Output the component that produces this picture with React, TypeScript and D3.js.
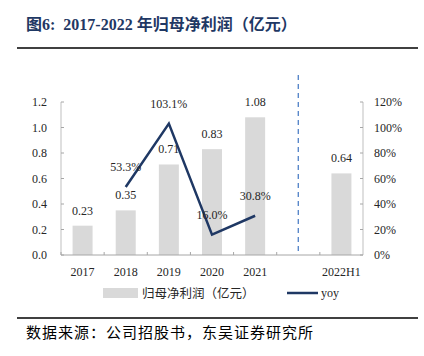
import React from "react";
import * as d3 from "d3";

const categories = ["2017", "2018", "2019", "2020", "2021", "", "2022H1"];
const profit: (number | null)[] = [0.23, 0.35, 0.71, 0.83, 1.08, null, 0.64];
const yoy: (number | null)[] = [null, 0.533, 1.031, 0.16, 0.308, null, null];
const leftTicks = [0, 0.2, 0.4, 0.6, 0.8, 1.0, 1.2];
const rightTicks = [0, 0.2, 0.4, 0.6, 0.8, 1.0, 1.2];

const W = 424, H = 356;
const serif = "'Liberation Serif', 'Times New Roman', serif";
const cjk = "'Noto Sans CJK SC', sans-serif";
const navy = "#1f3864";

export default function App() {
  const x0 = 61, x1 = 363, yTop = 102, yBot = 255;
  const x = d3.scaleBand<string>().domain(categories.map((c, i) => c || "_" + i)).range([x0, x1]).paddingInner(0).paddingOuter(0);
  const keys = x.domain();
  const bw = x.bandwidth();
  const barW = 20;
  const yL = d3.scaleLinear().domain([0, 1.2]).range([yBot, yTop]);
  const yR = d3.scaleLinear().domain([0, 1.2]).range([yBot, yTop]);
  const cx = (i: number) => (x(keys[i]) as number) + bw / 2;

  const linePts = yoy.map((v, i) => ({ v, i })).filter(d => d.v !== null) as { v: number; i: number }[];
  const line = d3.line<{ v: number; i: number }>().x(d => cx(d.i)).y(d => yR(d.v));
  const blankIdx = categories.indexOf("");

  return (
    <svg width={W} height={H} style={{ position: "absolute", left: 0, top: 0, background: "#fff" }}>
      <text x={26} y={30} fontFamily={serif} fontWeight="bold" fontSize={16} fill={navy}>
        <tspan fontFamily={cjk}>图</tspan>
        <tspan>6:</tspan>
        <tspan dx={8}>2017-2022</tspan>
        <tspan dx={4} fontFamily={cjk}>年归母净利润（亿元）</tspan>
      </text>
      <line x1={17} x2={418} y1={48} y2={48} stroke="#000" strokeWidth={1.5} />

      {/* bars */}
      {profit.map((v, i) =>
        v === null ? null : (
          <g key={"b" + i}>
            <rect x={cx(i) - barW / 2} y={yL(v)} width={barW} height={yBot - yL(v)} fill="#d9d9d9" />
            <text x={cx(i)} y={yL(v) - 11} textAnchor="middle" fontFamily={serif} fontSize={12} fill="#262626">
              {v.toFixed(2)}
            </text>
          </g>
        )
      )}

      {/* dashed separator */}
      <line x1={cx(blankIdx)} x2={cx(blankIdx)} y1={75} y2={253} stroke="#4f81c7" strokeWidth={1.3} strokeDasharray="5,4" />

      {/* axes */}
      <line x1={x0} x2={x0} y1={yTop} y2={yBot} stroke="#bfbfbf" />
      <line x1={x1} x2={x1} y1={yTop} y2={yBot} stroke="#bfbfbf" />
      <line x1={x0} x2={x1} y1={yBot} y2={yBot} stroke="#a6a6a6" />
      {leftTicks.map(t => (
        <g key={"l" + t}>
          <line x1={x0} x2={x0 + 3} y1={yL(t)} y2={yL(t)} stroke="#a6a6a6" />
          <text x={47} y={yL(t) + 4} textAnchor="end" fontFamily={serif} fontSize={12} fill="#262626">{t.toFixed(1)}</text>
        </g>
      ))}
      {rightTicks.map(t => (
        <g key={"r" + t}>
          <line x1={x1 - 3} x2={x1} y1={yR(t)} y2={yR(t)} stroke="#a6a6a6" />
          <text x={374} y={yR(t) + 4} textAnchor="start" fontFamily={serif} fontSize={12} fill="#262626">{Math.round(t * 100) + "%"}</text>
        </g>
      ))}
      {keys.map((k, i) => (
        <line key={"t" + i} x1={(x(k) as number)} x2={(x(k) as number)} y1={yBot - 3} y2={yBot} stroke="#a6a6a6" />
      ))}
      {categories.map((c, i) => (
        <text key={"c" + i} x={cx(i)} y={276} textAnchor="middle" fontFamily={serif} fontSize={12} fill="#262626">{c}</text>
      ))}

      {/* yoy line */}
      <path d={line(linePts) || ""} fill="none" stroke={navy} strokeWidth={2.5} />
      {linePts.map(d => (
        <text key={"y" + d.i} x={cx(d.i)} y={yR(d.v) - 16} textAnchor="middle" fontFamily={serif} fontSize={12} fill="#262626">
          {(d.v * 100).toFixed(1) + "%"}
        </text>
      ))}

      {/* legend */}
      <rect x={103} y={288} width={35} height={10} fill="#d9d9d9" />
      <text x={142} y={297.5} fontFamily={cjk} fontSize={12.5} fill="#262626">归母净利润（亿元）</text>
      <line x1={287} x2={318} y1={293} y2={293} stroke={navy} strokeWidth={2.5} />
      <text x={321} y={297} fontFamily={serif} fontSize={12} fill="#262626">yoy</text>

      <line x1={17} x2={418} y1={318} y2={318} stroke="#000" strokeWidth={1.5} />
      <text x={26} y={338} fontFamily={cjk} fontSize={15} letterSpacing={1} fill="#000">数据来源：公司招股书，东吴证券研究所</text>
    </svg>
  );
}
